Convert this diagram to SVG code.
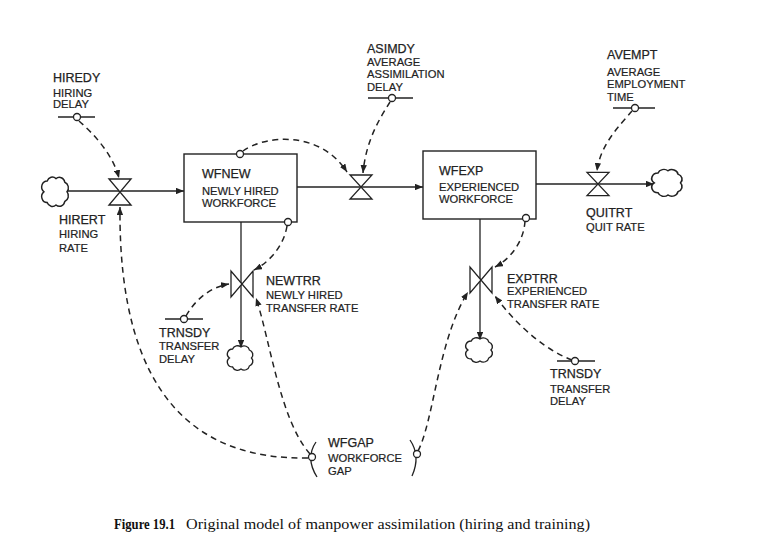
<svg xmlns="http://www.w3.org/2000/svg" xmlns:xlink="http://www.w3.org/1999/xlink" width="761" height="545" viewBox="0 0 761 545">
  <defs>
    <style>
      .ln { fill: none; stroke: #222; stroke-width: 1.3; }
      .dash { fill: none; stroke: #222; stroke-width: 1.5; stroke-dasharray: 6 4.5; }
      .box { fill: #fff; stroke: #222; stroke-width: 1.4; }
      .valve { fill: #fff; stroke: #222; stroke-width: 1.3; stroke-linejoin: miter; }
      .cloud { fill: #fff; stroke: #222; stroke-width: 1.3; }
      .tap { fill: #fff; stroke: #222; stroke-width: 1.3; }
      .name { font-family: "Liberation Sans", Arial, sans-serif; font-size: 12.5px; fill: #222; stroke: #222; stroke-width: 0.25; }
      .sub { font-family: "Liberation Sans", Arial, sans-serif; font-size: 11.2px; fill: #222; stroke: #222; stroke-width: 0.2; }
      .cap { font-family: "Liberation Serif", "Times New Roman", serif; font-size: 14px; fill: #111; }
    </style>
    <marker id="arr" viewBox="0 0 10 8" refX="10" refY="4" markerWidth="8" markerHeight="6.4" markerUnits="userSpaceOnUse" orient="auto">
      <path d="M0,0 L10,4 L0,8 z" fill="#222"/>
    </marker>
    <!-- rate symbols: vertical-flow and horizontal-flow bowties -->
    <path id="valveH" d="M-11,-12 H11 L-11,12 H11 Z"/>
    <path id="valveV" d="M-11,-13 V13 L11,-13 V13 Z"/>
    <path id="cloud" d="M-8,-10 a5,5 0 0 1 8,-2 a5,5 0 0 1 8,3 a5,5 0 0 1 2,8 a5,5 0 0 1 -2,8 a5,5 0 0 1 -8,3 a5,5 0 0 1 -8,-2 a5,5 0 0 1 -3,-9 a5,5 0 0 1 3,-9 z"/>
  </defs>

  <rect x="0" y="0" width="761" height="545" fill="#fff"/>

  <!-- connectors: material flows and information links -->
  <g id="connectors">
    <line class="ln" x1="67" y1="191" x2="184" y2="191" marker-end="url(#arr)"/>
    <line class="ln" x1="297" y1="187" x2="423" y2="187" marker-end="url(#arr)"/>
    <line class="ln" x1="536" y1="184" x2="654" y2="184" marker-end="url(#arr)"/>
    <line class="ln" x1="241" y1="222" x2="241" y2="348" marker-end="url(#arr)"/>
    <line class="ln" x1="480" y1="219" x2="480" y2="340" marker-end="url(#arr)"/>

    <path class="dash" d="M79,121 C95,135 113,155 119,178" marker-end="url(#arr)"/>
    <path class="dash" d="M243,151 C265,135 320,130 347,172" marker-end="url(#arr)"/>
    <path class="dash" d="M390,102 C380,118 366,140 363,173" marker-end="url(#arr)"/>
    <path class="dash" d="M632,111 C620,125 600,145 597,171" marker-end="url(#arr)"/>
    <path class="dash" d="M287,226 C284,245 270,262 254,270" marker-end="url(#arr)"/>
    <path class="dash" d="M186,316 C195,300 210,287 229,284" marker-end="url(#arr)"/>
    <path class="dash" d="M310,454 C280,420 270,340 256,298" marker-end="url(#arr)"/>
    <path class="dash" d="M308,458 C200,460 118,400 120,207" marker-end="url(#arr)"/>
    <path class="dash" d="M418,451 C434,420 438,340 468,292" marker-end="url(#arr)"/>
    <path class="dash" d="M525,221 C524,240 512,258 495,267" marker-end="url(#arr)"/>
    <path class="dash" d="M572,360 C550,352 520,330 495,296" marker-end="url(#arr)"/>
  </g>

  <!-- sources and sinks -->
  <g id="source-hire"><use href="#cloud" class="cloud" transform="translate(56,193) scale(1.1,1.2)"/></g>
  <g id="sink-quit"><use href="#cloud" class="cloud" transform="translate(668,184) scale(1.25,1.1)"/></g>
  <g id="sink-newtr"><use href="#cloud" class="cloud" transform="translate(241,359) scale(1.05,1.0)"/></g>
  <g id="sink-exptr"><use href="#cloud" class="cloud" transform="translate(480,351) scale(1.1,1.0)"/></g>

  <!-- levels -->
  <g id="WFNEW">
    <rect class="box" x="184" y="154" width="113" height="68"/>
    <text class="name" x="202" y="178">WFNEW</text>
    <text class="sub" x="202" y="195">NEWLY HIRED</text>
    <text class="sub" x="202" y="207">WORKFORCE</text>
    <circle class="tap" cx="240" cy="154" r="3.5"/>
    <circle class="tap" cx="288" cy="222" r="3.5"/>
  </g>
  <g id="WFEXP">
    <rect class="box" x="423" y="151" width="113" height="68"/>
    <text class="name" x="439" y="175">WFEXP</text>
    <text class="sub" x="439" y="191">EXPERIENCED</text>
    <text class="sub" x="439" y="203">WORKFORCE</text>
    <circle class="tap" cx="526" cy="218" r="3.5"/>
  </g>

  <!-- rates -->
  <g id="HIRERT">
    <use href="#valveH" class="valve" transform="translate(120,192) scale(1,1.08)"/>
    <text class="name" x="59" y="224">HIRERT</text>
    <text class="sub" x="59" y="238">HIRING</text>
    <text class="sub" x="59" y="252">RATE</text>
  </g>
  <g id="ASSIM">
    <use href="#valveH" class="valve" transform="translate(361,187)"/>
  </g>
  <g id="QUITRT">
    <use href="#valveH" class="valve" transform="translate(598,184) scale(1,0.96)"/>
    <text class="name" x="586" y="217">QUITRT</text>
    <text class="sub" x="586" y="231">QUIT RATE</text>
  </g>
  <g id="NEWTRR">
    <use href="#valveV" class="valve" transform="translate(242,284)"/>
    <text class="name" x="266" y="285">NEWTRR</text>
    <text class="sub" x="266" y="299">NEWLY HIRED</text>
    <text class="sub" x="266" y="312">TRANSFER RATE</text>
  </g>
  <g id="EXPTRR">
    <use href="#valveV" class="valve" transform="translate(481,280)"/>
    <text class="name" x="507" y="283">EXPTRR</text>
    <text class="sub" x="507" y="295">EXPERIENCED</text>
    <text class="sub" x="507" y="308">TRANSFER RATE</text>
  </g>

  <!-- constants -->
  <g id="HIREDY">
    <line class="ln" x1="58" y1="117" x2="95" y2="117"/>
    <circle class="tap" cx="77" cy="117" r="3.5"/>
    <text class="name" x="53" y="82">HIREDY</text>
    <text class="sub" x="53" y="97">HIRING</text>
    <text class="sub" x="53" y="108">DELAY</text>
  </g>
  <g id="ASIMDY">
    <line class="ln" x1="368" y1="98" x2="413" y2="98"/>
    <circle class="tap" cx="392" cy="98" r="3.5"/>
    <text class="name" x="367" y="53">ASIMDY</text>
    <text class="sub" x="367" y="66">AVERAGE</text>
    <text class="sub" x="367" y="78">ASSIMILATION</text>
    <text class="sub" x="367" y="91">DELAY</text>
  </g>
  <g id="AVEMPT">
    <line class="ln" x1="613" y1="108" x2="655" y2="108"/>
    <circle class="tap" cx="635" cy="108" r="3.5"/>
    <text class="name" x="607" y="59">AVEMPT</text>
    <text class="sub" x="607" y="76">AVERAGE</text>
    <text class="sub" x="607" y="88">EMPLOYMENT</text>
    <text class="sub" x="607" y="101">TIME</text>
  </g>
  <g id="TRNSDY-new">
    <line class="ln" x1="165" y1="319" x2="203" y2="319"/>
    <circle class="tap" cx="184" cy="319" r="3.5"/>
    <text class="name" x="159" y="337">TRNSDY</text>
    <text class="sub" x="159" y="350">TRANSFER</text>
    <text class="sub" x="159" y="363">DELAY</text>
  </g>
  <g id="TRNSDY-exp">
    <line class="ln" x1="557" y1="361" x2="595" y2="361"/>
    <circle class="tap" cx="575" cy="361" r="3.5"/>
    <text class="name" x="550" y="378">TRNSDY</text>
    <text class="sub" x="550" y="393">TRANSFER</text>
    <text class="sub" x="550" y="405">DELAY</text>
  </g>

  <!-- auxiliary -->
  <g id="WFGAP">
    <path class="ln" d="M316,442 Q305,458 317,477"/>
    <path class="ln" d="M410,440 Q421,456 412,476"/>
    <circle class="tap" cx="312" cy="457" r="3.5"/>
    <circle class="tap" cx="417" cy="454" r="3.5"/>
    <text class="name" x="328" y="447">WFGAP</text>
    <text class="sub" x="328" y="462">WORKFORCE</text>
    <text class="sub" x="328" y="475">GAP</text>
  </g>

  <!-- caption -->
  <g id="caption">
    <text class="cap" x="114" y="529" font-weight="bold" textLength="61" lengthAdjust="spacingAndGlyphs">Figure 19.1</text>
    <text class="cap" x="186" y="529" textLength="404" lengthAdjust="spacingAndGlyphs">Original model of manpower assimilation (hiring and training)</text>
  </g>
</svg>
